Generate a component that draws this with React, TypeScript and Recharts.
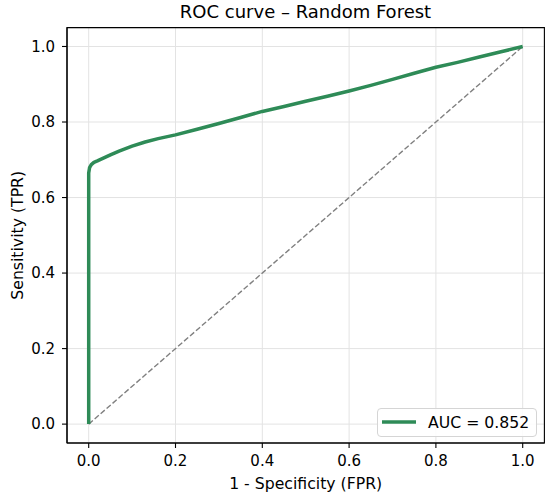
import React from 'react';
import { LineChart, Line, XAxis, YAxis, CartesianGrid, Legend, Label, ReferenceArea } from 'recharts';

const fprValues = [0, 0, 0.002, 0.006, 0.012, 0.02, 0.035, 0.05, 0.07, 0.1, 0.13, 0.16, 0.2, 0.25, 0.3, 0.35, 0.4, 0.45, 0.5, 0.55, 0.6, 0.65, 0.7, 0.75, 0.8, 0.85, 0.9, 0.95, 1.0];
const tprValues = [0, 0.665, 0.679, 0.687, 0.693, 0.697, 0.705, 0.713, 0.723, 0.736, 0.747, 0.756, 0.766, 0.781, 0.796, 0.812, 0.828, 0.841, 0.855, 0.868, 0.882, 0.897, 0.913, 0.929, 0.945, 0.958, 0.972, 0.986, 1.0];
const chanceFpr = [0, 1];
const chanceTpr = [0, 1];
const tickValues = [0, 0.2, 0.4, 0.6, 0.8, 1.0];
const aucValue = 0.852;

const rocData = fprValues.map((f, i) => ({ fpr: f, tpr: tprValues[i] }));
const chanceData = chanceFpr.map((f, i) => ({ fpr: f, tpr: chanceTpr[i] }));

const FONT = 'DejaVu Sans, sans-serif';
const TICK_FS = 15;
const LABEL_FS = 15.7;
const fmt = (v: number) => v.toFixed(1);

const LegendBox = (props: any) => {
  const items = (props.payload || []).filter((p: any) => p.value && String(p.value).startsWith('AUC'));
  return (
    <div
      style={{
        boxSizing: 'border-box',
        width: 160,
        height: 29,
        border: '1px solid #d5d5d5',
        borderRadius: 4,
        background: 'rgba(255,255,255,0.85)',
        display: 'flex',
        alignItems: 'center',
        fontFamily: FONT,
        fontSize: LABEL_FS,
        color: '#000',
      }}
    >
      {items.map((it: any, i: number) => (
        <div key={i} style={{ display: 'flex', alignItems: 'center' }}>
          <svg width={44} height={10} style={{ marginLeft: 4 }}>
            <line x1={0} y1={5} x2={34} y2={5} stroke={it.color} strokeWidth={3.5} />
          </svg>
          <span style={{ marginLeft: 2 }}>{it.value}</span>
        </div>
      ))}
    </div>
  );
};

export default function App() {
  return (
    <div style={{ position: 'absolute', left: 0, top: 0, width: 550, height: 497 }}>
      <div
        style={{
          position: 'absolute',
          left: 0,
          width: 611,
          top: 1,
          textAlign: 'center',
          fontFamily: FONT,
          fontSize: 18,
          color: '#000',
          lineHeight: '22px',
        }}
      >
        ROC curve – Random Forest
      </div>
      <LineChart
        width={550}
        height={497}
        margin={{ top: 27.6, right: 5.6, left: 0, bottom: 0 }}
        style={{ fontFamily: FONT }}
      >
        <CartesianGrid stroke="#e3e3e3" strokeWidth={1} />
        <XAxis
          dataKey="fpr"
          type="number"
          domain={[-0.05, 1.05]}
          ticks={tickValues}
          tickFormatter={fmt}
          allowDataOverflow
          height={54}
          tickSize={5}
          tickMargin={7}
          stroke="#000"
          fontSize={TICK_FS}
          fontFamily={FONT}
          tick={{ fill: '#000', fontSize: TICK_FS, fontFamily: FONT }}
          tickLine={{ stroke: '#000', strokeWidth: 1.1 }}
          axisLine={{ stroke: '#000', strokeWidth: 1.1 }}
        >
          <Label value="1 - Specificity (FPR)" position="insideBottom" offset={8} fontSize={LABEL_FS} fill="#000" style={{ fill: '#000', fontSize: LABEL_FS, fontFamily: FONT }} />
        </XAxis>
        <YAxis
          type="number"
          domain={[-0.05, 1.05]}
          ticks={tickValues}
          tickFormatter={fmt}
          allowDataOverflow
          width={67}
          tickSize={5}
          tickMargin={7}
          stroke="#000"
          fontSize={TICK_FS}
          fontFamily={FONT}
          tick={{ fill: '#000', fontSize: TICK_FS, fontFamily: FONT }}
          tickLine={{ stroke: '#000', strokeWidth: 1.1 }}
          axisLine={{ stroke: '#000', strokeWidth: 1.1 }}
        >
          <Label value="Sensitivity (TPR)" angle={-90} position="center" dx={-16} fontSize={LABEL_FS} fill="#000" style={{ fill: '#000', fontSize: LABEL_FS, fontFamily: FONT, textAnchor: 'middle' }} />
        </YAxis>
        <ReferenceArea x1={-0.05} x2={1.05} y1={-0.05} y2={1.05} fill="none" fillOpacity={0} stroke="#000" strokeWidth={1.1} ifOverflow="visible" />
        <Line
          data={chanceData}
          dataKey="tpr"
          name="chance"
          type="linear"
          stroke="#808080"
          strokeWidth={1.4}
          strokeDasharray="5.5 2.4"
          dot={false}
          activeDot={false}
          legendType="none"
          isAnimationActive={false}
        />
        <Line
          data={rocData}
          dataKey="tpr"
          name={`AUC = ${aucValue.toFixed(3)}`}
          type="linear"
          stroke="#2E8B57"
          strokeWidth={3.5}
          strokeLinejoin="round"
          dot={false}
          activeDot={false}
          isAnimationActive={false}
        />
        <Legend
          layout="horizontal"
          verticalAlign="middle"
          align="center"
          content={<LegendBox />}
          wrapperStyle={{ position: 'absolute', left: 377, top: 407.5, width: 160, height: 29, bottom: 'auto' }}
        />
      </LineChart>
    </div>
  );
}
